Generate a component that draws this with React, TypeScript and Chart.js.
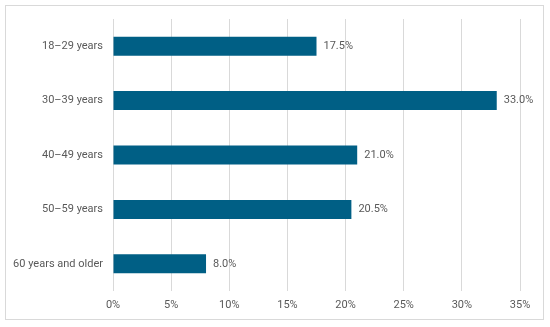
import React, { useEffect, useRef } from "react";
import { Chart, registerables } from "chart.js";

Chart.register(...registerables);

const categories = ["18–29 years", "30–39 years", "40–49 years", "50–59 years", "60 years and older"];
const shares = [17.5, 33.0, 21.0, 20.5, 8.0];
const xTicks = [0, 5, 10, 15, 20, 25, 30, 35];

const FONT = "Roboto, 'Liberation Sans', Arial, sans-serif";
const TEXT = "#595959";

const valueLabels = {
  id: "valueLabels",
  afterDatasetsDraw(chart: any) {
    const ctx = chart.ctx;
    const meta = chart.getDatasetMeta(0);
    ctx.save();
    ctx.font = `11px ${FONT}`;
    ctx.fillStyle = TEXT;
    ctx.textAlign = "left";
    ctx.textBaseline = "middle";
    meta.data.forEach((bar: any, i: number) => {
      ctx.fillText(shares[i].toFixed(1) + "%", bar.x + 7, bar.y);
    });
    ctx.restore();
  },
};

export default function App() {
  const ref = useRef<HTMLCanvasElement | null>(null);
  useEffect(() => {
    document.body.style.margin = "0";
    const chart = new Chart(ref.current!, {
      type: "bar",
      data: {
        labels: categories,
        datasets: [
          {
            data: shares,
            backgroundColor: "#005F85",
            borderWidth: 0,
            barPercentage: 0.35,
            categoryPercentage: 1,
          },
        ],
      },
      plugins: [valueLabels],
      options: {
        indexAxis: "y",
        animation: false,
        responsive: false,
        maintainAspectRatio: false,
        layout: { padding: { left: 0, right: 30, top: 19, bottom: 0 } },
        plugins: { legend: { display: false }, tooltip: { enabled: false } },
        scales: {
          x: {
            min: 0,
            max: 35,
            afterBuildTicks(scale: any) {
              scale.ticks = xTicks.map((v) => ({ value: v }));
            },
            afterFit(scale: any) {
              scale.height = 36;
            },
            grid: { color: "#d9d9d9", drawTicks: false, lineWidth: 1 },
            border: { display: false },
            ticks: {
              padding: 8,
              color: TEXT,
              font: { family: FONT, size: 11 },
              callback: (v: any) => v + "%",
            },
          },
          y: {
            afterFit(scale: any) {
              scale.width = 113;
            },
            grid: { display: false, drawTicks: false },
            border: { display: false },
            ticks: {
              padding: 10,
              color: TEXT,
              font: { family: FONT, size: 11 },
            },
          },
        },
      },
    });
    return () => chart.destroy();
  }, []);
  return (
    <div style={{ position: "relative", width: 550, height: 327, background: "#fff" }}>
      <div
        style={{
          position: "absolute",
          left: 5,
          top: 5,
          width: 537,
          height: 313,
          border: "1px solid #d9d9d9",
        }}
      />
      <canvas ref={ref} width={550} height={327} style={{ position: "absolute", left: 0, top: 0 }} />
    </div>
  );
}
